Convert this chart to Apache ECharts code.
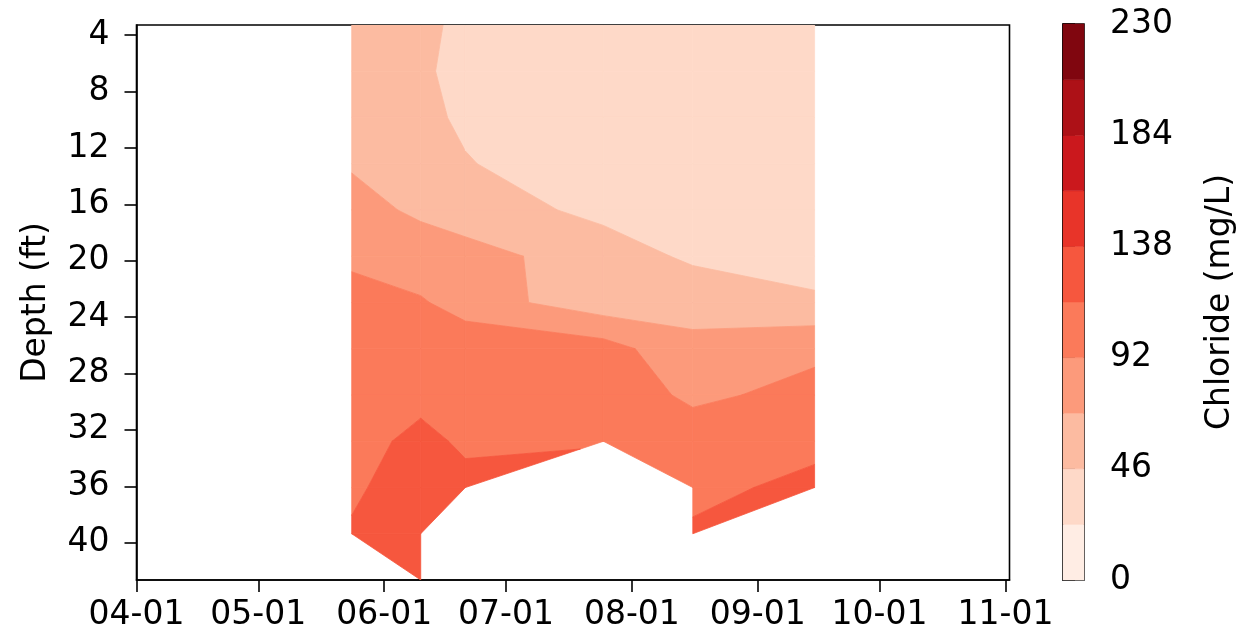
<!DOCTYPE html>
<html>
<head>
<meta charset="utf-8">
<script src="https://cdn.jsdelivr.net/npm/echarts@6/dist/echarts.min.js"></script>
<style>
html,body{margin:0;padding:0;background:#fff;}
#chart{width:1238px;height:643px;}
</style>
</head>
<body>
<div id="chart"></div>
<script>
// ---------------- DATA ----------------
// sampling dates (columns of the contour grid)
const sampleDates = ['2021-05-24','2021-06-10','2021-06-21','2021-07-25','2021-08-16','2021-09-15'];
// sampling depths in ft (1 m ... 13 m)
const depthsFt = [3.28, 6.56, 9.84, 13.12, 16.40, 19.69, 22.97, 26.25, 29.53, 32.81, 36.09, 39.37, 42.65];
// chloride (mg/L) per sampling date, top to bottom; null = no sample
const chlMay24 = [60, 62, 65, 68, 73, 90, 96, 100, 104, 108, 112, 117, null];
const chlJun10 = [52, 49, 52, 58, 67, 75, 95, 100, 110, 120, 125, 128, 128];
const chlJun21 = [40, 40, 42, 47.5, 58, 77, 80, 110, 108, 112, 120, null, null];
const chlJul25 = [30, 30, 30, 30, 40, 58, 56, 102, 105, 114, null, null, null];
const chlAug16 = [30, 30, 30, 32, 36, 42, 62, 74, 88, 103, 108, 119, null];
const chlSep15 = [30, 30, 30, 32, 34, 35, 50, 88, 98, 108, 122, null, null];
// contour levels (colorbar)
const levels = [0, 23, 46, 69, 92, 115, 138, 161, 184, 207, 230];
const cbarTicks = [0, 46, 92, 138, 184, 230];
const depthTicks = [4, 8, 12, 16, 20, 24, 28, 32, 36, 40];
const dateTickLabels = ['04-01','05-01','06-01','07-01','08-01','09-01','10-01','11-01'];
const xStart = '2021-04-01', xEnd = '2021-11-02';
const tickYear = 2021;

// ---------------- STYLE ----------------
const bandColors = ['#ffede4','#fed9c8','#fcbba1','#fc9a7b','#fb7a5a','#f6573e','#e83429','#cb181d','#ad1117','#80060f'];
const FONT = 'DejaVu Sans';
const FS = 33;

// ---------------- BUILD ----------------
function ts(s){const p=s.split('-').map(Number);return Date.UTC(p[0],p[1]-1,p[2]);}
const colX = sampleDates.map(ts);
const grid = [chlMay24, chlJun10, chlJun21, chlJul25, chlAug16, chlSep15];
const tickVals = dateTickLabels.map(l => ts(tickYear + '-' + l));

function interp(a, b, t){
  const f = (t - a.v) / (b.v - a.v);
  return {x: a.x + f*(b.x - a.x), y: a.y + f*(b.y - a.y), v: t};
}
function clip(poly, inside, t){
  const out = [];
  const n = poly.length;
  for (let i = 0; i < n; i++){
    const cur = poly[i], prev = poly[(i + n - 1) % n];
    const ci = inside(cur.v), pi = inside(prev.v);
    if (ci){
      if (!pi) out.push(interp(prev, cur, t));
      out.push(cur);
    } else if (pi){
      out.push(interp(prev, cur, t));
    }
  }
  return out;
}
const polys = [];
for (let i = 0; i < colX.length - 1; i++){
  for (let j = 0; j < depthsFt.length - 1; j++){
    const corners = [[i,j],[i+1,j],[i+1,j+1],[i,j+1]];
    const pts = corners.filter(c => grid[c[0]][c[1]] != null)
      .map(c => ({x: colX[c[0]], y: depthsFt[c[1]], v: grid[c[0]][c[1]]}));
    if (pts.length < 3) continue;
    for (let k = 0; k < levels.length - 1; k++){
      const lo = levels[k], hi = levels[k+1];
      let p = clip(pts, v => v >= lo, lo);
      if (p.length < 3) continue;
      p = clip(p, v => v <= hi, hi);
      if (p.length < 3) continue;
      let cx = 0, cy = 0;
      p.forEach(q => {cx += q.x; cy += q.y;});
      polys.push({band: k, pts: p, cx: cx/p.length, cy: cy/p.length});
    }
  }
}

const chart = echarts.init(document.getElementById('chart'), null, {renderer: 'canvas'});
const axisLine = {show: true, lineStyle: {color: '#000', width: 1.6}};
const axisTick = {show: true, inside: false, length: 12, lineStyle: {color: '#000', width: 1.6}};
const labelBase = {color: '#000', fontFamily: FONT, fontSize: FS};

chart.setOption({
  animation: false,
  backgroundColor: '#fff',
  grid: [
    {left: 136.5, right: 228.5, top: 25, bottom: 63, show: true, borderColor: '#000', borderWidth: 1.6, backgroundColor: 'transparent'},
    {left: 1063, right: 146, top: 24, bottom: 63, show: true, borderColor: '#000', borderWidth: 1.6, backgroundColor: 'transparent'}
  ],
  xAxis: [
    {
      type: 'value', gridIndex: 0, min: ts(xStart), max: ts(xEnd), scale: true,
      axisLine: axisLine,
      axisTick: Object.assign({customValues: tickVals}, axisTick),
      axisLabel: Object.assign({
        customValues: tickVals, margin: 19, hideOverlap: false,
        formatter: v => { const i = tickVals.indexOf(v); return i >= 0 ? dateTickLabels[i] : ''; }
      }, labelBase),
      splitLine: {show: false}
    },
    {type: 'value', gridIndex: 1, min: 0, max: 1, show: false}
  ],
  yAxis: [
    {
      type: 'value', gridIndex: 0, inverse: true, min: depthsFt[0], max: depthsFt[depthsFt.length-1],
      name: 'Depth (ft)', nameLocation: 'middle', nameRotate: 90, nameGap: 84,
      nameTextStyle: {color: '#000', fontFamily: FONT, fontSize: FS},
      axisLine: axisLine,
      axisTick: Object.assign({customValues: depthTicks}, axisTick),
      axisLabel: Object.assign({customValues: depthTicks, margin: 27}, labelBase),
      splitLine: {show: false}
    },
    {
      type: 'value', gridIndex: 1, position: 'right', min: levels[0], max: levels[levels.length-1], interval: 46,
      name: 'Chloride (mg/L)', nameLocation: 'middle', nameRotate: 90, nameGap: 120,
      nameTextStyle: {color: '#000', fontFamily: FONT, fontSize: FS},
      axisLine: axisLine,
      axisTick: Object.assign({customValues: cbarTicks}, axisTick),
      axisLabel: Object.assign({customValues: cbarTicks, margin: 26}, labelBase),
      splitLine: {show: false}
    }
  ],
  series: [
    {
      type: 'custom', xAxisIndex: 0, yAxisIndex: 0, clip: true, silent: true,
      data: polys.map((p, idx) => [p.cx, p.cy, idx]),
      encode: {x: 0, y: 1},
      renderItem: function(params, api){
        const p = polys[api.value(2)];
        const pts = p.pts.map(q => api.coord([q.x, q.y]));
        const c = bandColors[p.band];
        return {type: 'polygon', shape: {points: pts}, style: {fill: c, stroke: c, lineWidth: 0.8}};
      }
    },
    {
      type: 'custom', xAxisIndex: 1, yAxisIndex: 1, silent: true,
      data: levels.slice(0, -1).map((lo, k) => [0.5, (lo + levels[k+1]) / 2, k]),
      encode: {x: 0, y: 1},
      renderItem: function(params, api){
        const k = api.value(2);
        const a = api.coord([0, levels[k+1]]);
        const b = api.coord([1, levels[k]]);
        return {type: 'rect', shape: {x: a[0], y: a[1], width: b[0]-a[0], height: b[1]-a[1]},
                style: {fill: bandColors[k], stroke: bandColors[k], lineWidth: 0.5}};
      }
    }
  ]
});
</script>
</body>
</html>
